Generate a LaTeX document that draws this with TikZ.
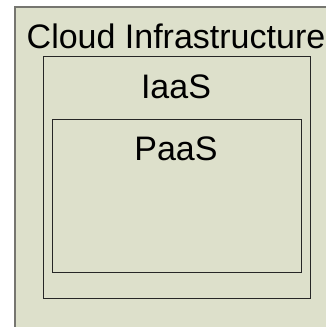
\documentclass[tikz,border=0pt]{standalone}
\usepackage{fontspec}
\setmainfont{Liberation Sans}
\definecolor{cloudfill}{RGB}{221,224,203}
\definecolor{cloudline}{RGB}{118,118,112}
\begin{document}
\begin{tikzpicture}[x=1pt,y=-1pt]
	\tikzstyle{layer}=[draw=black!85, line width=1pt, inner sep=0pt, outer sep=0pt, anchor=north west]
	\tikzstyle{caption}=[font=\fontsize{34}{34}\selectfont, anchor=base, inner sep=0pt]
	
	\useasboundingbox (0,0) rectangle (326,327);
	\clip (0,0) rectangle (326,327);
	\fill[white] (0,0) rectangle (326,327);
	
	% Infraestructura
	\node[layer, draw=cloudline, fill=cloudfill, line width=1.5pt, minimum width=330pt, minimum height=330pt] (cloud) at (15,7) {};
	
	% Capas
	\node[layer, minimum width=267pt, minimum height=242pt] (iaas) at (43,56) {};
	\node[layer, minimum width=249pt, minimum height=153pt] (paas) at (52,119) {};
	
	% Textos
	\node[caption] (cloud-text) at (176,48) {Cloud Infrastructure};
	\node[caption] (iaas-text) at (176,98) {IaaS};
	\node[caption] (paas-text) at (176,160) {PaaS};
\end{tikzpicture}
\end{document}
